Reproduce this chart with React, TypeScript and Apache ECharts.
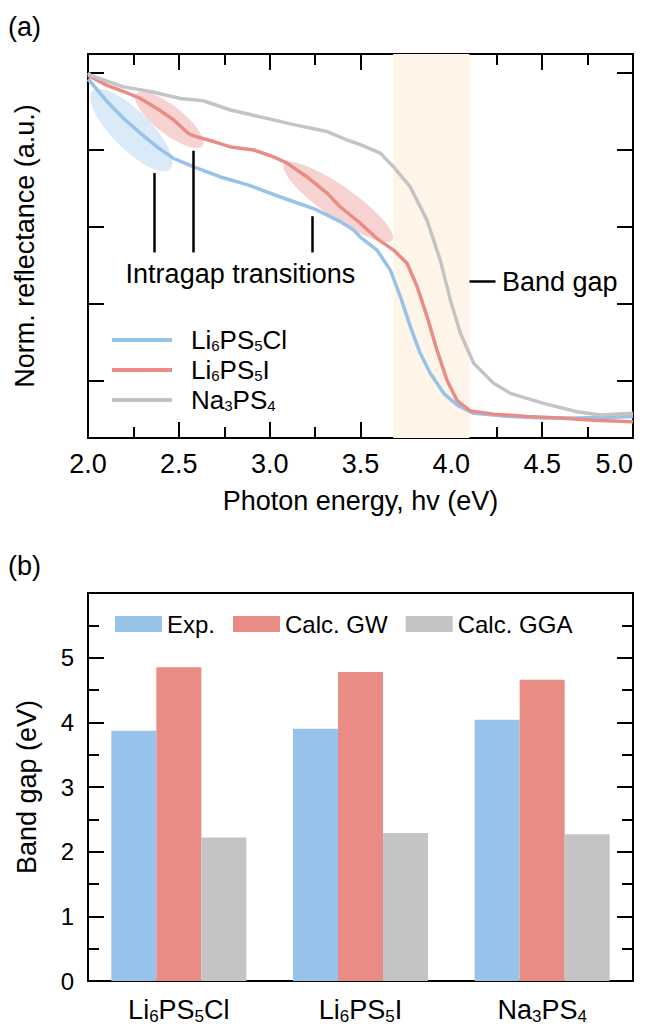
import React, { useEffect, useRef } from "react";
import * as echarts from "echarts";

const FONT = '"Liberation Sans", Arial, Helvetica, sans-serif';
const BLUE = "#97C2EA";
const RED = "#E88C85";
const GRAY = "#C4C4C4";

// ---- Panel (a): normalized reflectance spectra (photon energy eV, norm. reflectance a.u.)
const li6ps5cl: number[][] = [
  [2.0, 3.92], [2.02, 3.87], [2.105, 3.63], [2.196, 3.41], [2.288, 3.22], [2.38, 3.04],
  [2.472, 2.89], [2.582, 2.78], [2.729, 2.65], [2.876, 2.55], [3.059, 2.39], [3.242, 2.24],
  [3.389, 2.07], [3.462, 1.96], [3.499, 1.87], [3.591, 1.7], [3.664, 1.44], [3.719, 1.1],
  [3.774, 0.71], [3.829, 0.36], [3.884, 0.1], [3.958, -0.16], [4.031, -0.31], [4.123, -0.42],
  [4.325, -0.46], [4.508, -0.48], [4.692, -0.48], [4.875, -0.47], [5.0, -0.46],
];
const li6ps5i: number[][] = [
  [2.0, 3.97], [2.105, 3.84], [2.196, 3.76], [2.288, 3.67], [2.38, 3.54], [2.472, 3.39],
  [2.545, 3.23], [2.564, 3.2], [2.6, 3.17], [2.692, 3.11], [2.784, 3.04], [2.912, 3.0],
  [3.022, 2.91], [3.096, 2.83], [3.206, 2.65], [3.316, 2.44], [3.389, 2.26], [3.499, 2.05],
  [3.591, 1.85], [3.682, 1.7], [3.756, 1.53], [3.811, 1.23], [3.866, 0.84], [3.921, 0.4],
  [3.976, 0.01], [4.031, -0.25], [4.105, -0.39], [4.233, -0.43], [4.417, -0.46], [4.6, -0.48],
  [4.783, -0.51], [5.0, -0.53],
];
const na3ps4: number[][] = [
  [2.0, 4.0], [2.013, 3.97], [2.196, 3.82], [2.343, 3.76], [2.509, 3.67], [2.635, 3.64],
  [2.784, 3.52], [2.949, 3.43], [3.132, 3.33], [3.316, 3.24], [3.426, 3.13], [3.499, 3.07],
  [3.609, 2.96], [3.682, 2.78], [3.774, 2.52], [3.866, 2.09], [3.939, 1.57], [3.995, 1.05],
  [4.05, 0.62], [4.123, 0.23], [4.233, -0.03], [4.325, -0.16], [4.508, -0.29], [4.692, -0.4],
  [4.82, -0.44], [5.0, -0.42],
];
const spectraNames = ["Li6PS5Cl", "Li6PS5I", "Na3PS4"];
const bandGapRange = [3.68, 4.1];
const intragapX = [2.365, 2.578, 3.237];
const intragapTop = [2.7, 2.99, 2.14];
const intragapBottom = 1.67;
const bandGapTick = [4.1, 4.243, 1.29];
const intragapLabel = [2.839, 1.39];
const bandGapLabel = [4.279, 1.29];
// ellipse annotations: [x, y] centers
const ellipseCenters = [[2.239, 3.26], [2.448, 3.39], [3.378, 2.325]];

// ---- Panel (b): band gaps (eV)
const categories = ["Li6PS5Cl", "Li6PS5I", "Na3PS4"];
const expGap = [3.87, 3.9, 4.04];
const gwGap = [4.85, 4.78, 4.66];
const ggaGap = [2.22, 2.29, 2.27];
const barNames = ["Exp.", "Calc. GW", "Calc. GGA"];

function chem(s: string, n: string, sub: string): string {
  return s
    .split(/(\d+)/)
    .filter((p) => p !== "")
    .map((p) => (/^\d+$/.test(p) ? `{${sub}|${p}}` : `{${n}|${p}}`))
    .join("");
}

const ls = () => ({ color: "#000", width: 2 });
const tick = (length: number) => ({ show: true, inside: true, length, lineStyle: ls() });
const minor = () => ({ show: true, splitNumber: 2, length: 11, lineStyle: ls() });
const axLine = () => ({ show: true, onZero: false, lineStyle: ls() });

export default function App() {
  const ref = useRef<HTMLDivElement>(null);
  useEffect(() => {
    if (!ref.current) return;
    const chart = echarts.init(ref.current, null, { renderer: "svg" });
    const option: any = {
      animation: false,
      backgroundColor: "#fff",
      textStyle: { fontFamily: FONT, color: "#000" },
      title: [
        { text: "(a)", left: 8, top: 13, padding: 0, textStyle: { fontSize: 27, fontWeight: "normal", fontFamily: FONT, color: "#000" } },
        { text: "(b)", left: 8, top: 552, padding: 0, textStyle: { fontSize: 27, fontWeight: "normal", fontFamily: FONT, color: "#000" } },
      ],
      grid: [
        { left: 88, top: 54, width: 545, height: 384, show: false, containLabel: false, outerBoundsMode: "none" },
        { left: 88, top: 593, width: 545, height: 388, show: false, containLabel: false, outerBoundsMode: "none" },
      ],
      xAxis: [
        {
          type: "value", gridIndex: 0, position: "bottom", min: 2, max: 5, interval: 0.5,
          axisLine: axLine(), axisTick: tick(16), minorTick: minor(),
          splitLine: { show: false }, minorSplitLine: { show: false },
          axisLabel: {
            fontSize: 27, color: "#000", margin: 12, fontFamily: FONT, alignMaxLabel: "right",
            formatter: (v: number) => v.toFixed(1),
          },
          name: "Photon energy, hv (eV)", nameLocation: "middle", nameGap: 49,
          nameTextStyle: { fontSize: 27, color: "#000", fontFamily: FONT },
        },
        {
          type: "value", gridIndex: 0, position: "top", min: 2, max: 5, interval: 0.5,
          axisLine: axLine(), axisTick: tick(16), minorTick: minor(),
          splitLine: { show: false }, axisLabel: { show: false },
        },
        {
          type: "category", gridIndex: 1, position: "bottom", data: categories,
          axisLine: axLine(),
          axisTick: { show: false }, splitLine: { show: false },
          axisLabel: {
            margin: 14, color: "#000",
            formatter: (v: string) => chem(v, "n", "s"),
            rich: {
              n: { fontSize: 27, lineHeight: 30, fontFamily: FONT, color: "#000" },
              s: { fontSize: 17, lineHeight: 16, verticalAlign: "bottom", fontFamily: FONT, color: "#000" },
            },
          },
        },
        {
          type: "category", gridIndex: 1, position: "top", data: categories,
          axisLine: axLine(),
          axisTick: { show: false }, axisLabel: { show: false }, splitLine: { show: false },
        },
      ],
      yAxis: [
        {
          type: "value", gridIndex: 0, position: "left", min: -0.74, max: 4.247, splitNumber: 5,
          axisLine: axLine(), axisTick: tick(16),
          axisLabel: { show: false }, splitLine: { show: false },
          name: "Norm. reflectance (a.u.)", nameLocation: "middle", nameGap: 50,
          nameTextStyle: { fontSize: 27, color: "#000", fontFamily: FONT },
        },
        {
          type: "value", gridIndex: 0, position: "right", min: -0.74, max: 4.247, splitNumber: 5,
          axisLine: axLine(), axisTick: tick(16),
          axisLabel: { show: false }, splitLine: { show: false },
        },
        {
          type: "value", gridIndex: 1, position: "left", min: 0, max: 6, interval: 1,
          axisLine: axLine(), axisTick: tick(16), minorTick: minor(),
          splitLine: { show: false },
          axisLabel: { fontSize: 24, color: "#000", margin: 14, showMaxLabel: false, fontFamily: FONT },
          name: "Band gap (eV)", nameLocation: "middle", nameGap: 48,
          nameTextStyle: { fontSize: 27, color: "#000", fontFamily: FONT },
        },
        {
          type: "value", gridIndex: 1, position: "right", min: 0, max: 6, interval: 1,
          axisLine: axLine(), axisTick: tick(16), minorTick: minor(),
          splitLine: { show: false }, axisLabel: { show: false },
        },
      ],
      legend: [
        {
          data: spectraNames, orient: "vertical", left: 112, top: 327, padding: 0, icon: "rect",
          itemWidth: 60, itemHeight: 4, itemGap: 4, selectedMode: false,
          formatter: (name: string) => chem(name, "n", "s"),
          textStyle: {
            padding: [0, 0, 0, 14],
            rich: {
              n: { fontSize: 26, lineHeight: 26, fontFamily: FONT, color: "#000" },
              s: { fontSize: 15, lineHeight: 18, verticalAlign: "bottom", fontFamily: FONT, color: "#000" },
            },
          },
        },
        {
          data: barNames, orient: "horizontal", left: 115, top: 612, padding: 0, icon: "rect",
          itemWidth: 47, itemHeight: 16, itemGap: 18, selectedMode: false,
          textStyle: { fontSize: 24, color: "#000", fontFamily: FONT },
        },
      ],
      series: [
        {
          name: spectraNames[0], type: "line", xAxisIndex: 0, yAxisIndex: 0, data: li6ps5cl,
          showSymbol: false, symbol: "none",
          lineStyle: { color: BLUE, width: 3.5 }, itemStyle: { color: BLUE }, z: 3,
          emphasis: { disabled: true },
          markArea: {
            silent: true, itemStyle: { color: "#FEF5E8" },
            data: [[{ xAxis: bandGapRange[0] }, { xAxis: bandGapRange[1] }]],
          },
        },
        {
          name: spectraNames[1], type: "line", xAxisIndex: 0, yAxisIndex: 0, data: li6ps5i,
          showSymbol: false, symbol: "none",
          lineStyle: { color: RED, width: 3.5 }, itemStyle: { color: RED }, z: 3,
          emphasis: { disabled: true },
        },
        {
          name: spectraNames[2], type: "line", xAxisIndex: 0, yAxisIndex: 0, data: na3ps4,
          showSymbol: false, symbol: "none",
          lineStyle: { color: GRAY, width: 3.5 }, itemStyle: { color: GRAY }, z: 3,
          emphasis: { disabled: true },
          markLine: {
            silent: true, symbol: ["none", "none"], label: { show: false },
            lineStyle: { color: "#000", width: 2.5, type: "solid" },
            emphasis: { disabled: true },
            data: [
              ...intragapX.map((x, i) => [{ coord: [x, intragapTop[i]] }, { coord: [x, intragapBottom] }]),
              [{ coord: [bandGapTick[0], bandGapTick[2]] }, { coord: [bandGapTick[1], bandGapTick[2]] }],
            ],
          },
        },
        {
          name: barNames[0], type: "bar", xAxisIndex: 2, yAxisIndex: 2, data: expGap,
          barWidth: 45, barGap: "0%", itemStyle: { color: BLUE }, emphasis: { disabled: true },
        },
        {
          name: barNames[1], type: "bar", xAxisIndex: 2, yAxisIndex: 2, data: gwGap,
          barWidth: 45, barGap: "0%", itemStyle: { color: RED }, emphasis: { disabled: true },
        },
        {
          name: barNames[2], type: "bar", xAxisIndex: 2, yAxisIndex: 2, data: ggaGap,
          barWidth: 45, barGap: "0%", itemStyle: { color: GRAY }, emphasis: { disabled: true },
        },
      ],
    };
    chart.setOption(option);

    const P = (x: number, y: number) => chart.convertToPixel({ seriesIndex: 0 }, [x, y]) as number[];
    const ell = (c: number[], rx: number, ry: number, deg: number, fill: string) => {
      const p = P(c[0], c[1]);
      return {
        type: "ellipse", x: p[0], y: p[1], rotation: (-deg * Math.PI) / 180,
        shape: { cx: 0, cy: 0, rx, ry }, style: { fill }, z: 0, silent: true,
      };
    };
    const tIntra = P(intragapLabel[0], intragapLabel[1]);
    const tBand = P(bandGapLabel[0], bandGapLabel[1]);
    chart.setOption({
      graphic: [
        ell(ellipseCenters[0], 55, 19, 45, "rgba(151,194,234,0.35)"),
        ell(ellipseCenters[1], 42, 14, 38, "rgba(232,140,133,0.38)"),
        ell(ellipseCenters[2], 66, 16, 35, "rgba(232,140,133,0.38)"),
        {
          type: "text", x: tIntra[0], y: tIntra[1], z: 10, silent: true,
          style: { text: "Intragap transitions", fontSize: 27, fontFamily: FONT, fill: "#000", align: "center", verticalAlign: "middle" },
        },
        {
          type: "text", x: tBand[0], y: tBand[1], z: 10, silent: true,
          style: { text: "Band gap", fontSize: 27, fontFamily: FONT, fill: "#000", align: "left", verticalAlign: "middle" },
        },
      ],
    });
    return () => chart.dispose();
  }, []);
  return (
    <div
      ref={ref}
      style={{ position: "fixed", left: 0, top: 0, width: 651, height: 1025, background: "#fff" }}
    />
  );
}
